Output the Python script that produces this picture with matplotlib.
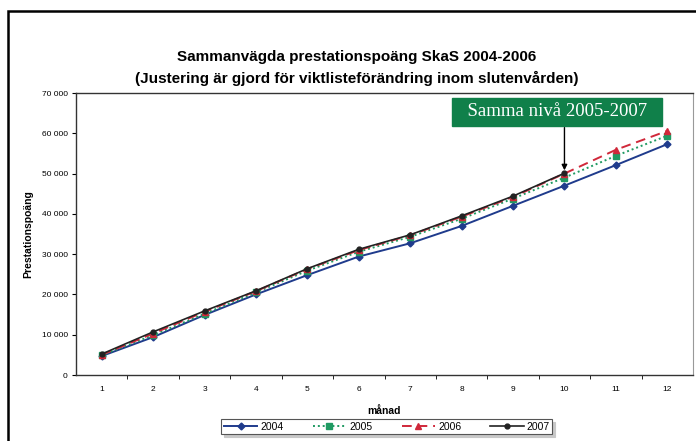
import matplotlib.pyplot as plt
from matplotlib.patches import Rectangle

months = list(range(1, 13))
p2004 = [4700, 9400, 14900, 20000, 24800, 29400, 32700, 37000, 42000, 47000, 52100, 57300]
p2005 = [4900, 9900, 15200, 20500, 25900, 30600, 34300, 38800, 43800, 49000, 54400, 59400]
p2006 = [5000, 10300, 15700, 20800, 26300, 31000, 34700, 39300, 44200, 50000, 55900, 60600]
p2007 = [5200, 10700, 15900, 20900, 26400, 31200, 34800, 39500, 44400, 50100]

yticks = list(range(0, 70001, 10000))
ytick_labels = ["{:,}".format(v).replace(",", " ") for v in yticks]

plt.rcParams['font.family'] = ['Liberation Sans', 'DejaVu Sans']

fig = plt.figure(figsize=(6.96, 4.41), dpi=100)
fig.patches.append(Rectangle((8 / 696, -0.1), 1.2, 1 - 11 / 441 + 0.1,
                             transform=fig.transFigure, fill=False,
                             edgecolor='black', linewidth=1.8))

ax = fig.add_axes([76 / 696, 1 - 375 / 441, 617 / 696, 282 / 441])

ax.plot(months, p2004, color='#1f3b8c', lw=1.4, marker='D', ms=3.5, label='2004')
ax.plot(months, p2005, color='#1f9a62', lw=1.4, ls=(0, (1, 1.5)), marker='s', ms=4, label='2005')
ax.plot(months, p2006, color='#d0283a', lw=1.4, ls=(0, (5, 3)), marker='^', ms=4, label='2006')
ax.plot(months[:len(p2007)], p2007, color='#222222', lw=1.2, marker='o', ms=3.5, label='2007')

ax.set_xlim(0.5, 12.5)
ax.set_ylim(0, 70000)
ax.set_xticks(months)
ax.set_xticklabels([str(m) for m in months], fontsize=6)
ax.set_xticks([m + 0.5 for m in months[:-1]], minor=True)
ax.tick_params(axis='x', which='major', length=0, pad=8)
ax.tick_params(axis='x', which='minor', length=3, direction='out')
ax.set_yticks(yticks)
ax.set_yticklabels(ytick_labels, fontsize=6)
ax.tick_params(axis='y', length=3, direction='out', pad=3)

for side in ['left', 'bottom', 'top']:
    ax.spines[side].set_color('#333333')
    ax.spines[side].set_linewidth(1.0)
ax.spines['right'].set_color('#999999')

ax.set_ylabel('Prestationspoäng', fontsize=7.5, fontweight='bold', labelpad=6)
ax.set_xlabel('månad', fontsize=7.5, fontweight='bold', labelpad=9)

fig.text(0.513, 1 - 57 / 441, 'Sammanvägda prestationspoäng SkaS 2004-2006',
         ha='center', va='center', fontsize=11, fontweight='bold')
fig.text(0.513, 1 - 78 / 441, '(Justering är gjord för viktlisteförändring inom slutenvården)',
         ha='center', va='center', fontsize=11, fontweight='bold')

# label box and arrow pointing at month 10
ax.text(9.86, 65300, '  Samma nivå 2005-2007  ', ha='center', va='center',
        fontsize=13.5, color='white', family='Liberation Serif',
        bbox=dict(boxstyle='square,pad=0.3', fc='#10804a', ec='#10804a'), clip_on=False)
ax.annotate('', xy=(10, p2007[9] + 700), xytext=(10, 61400),
            arrowprops=dict(arrowstyle='-|>', color='black', lw=1.0, shrinkA=0, shrinkB=0,
                            mutation_scale=8))

leg = ax.legend(loc='center', bbox_to_anchor=(0.504, -0.184), ncol=4, fontsize=7.5,
                frameon=True, fancybox=False, shadow={'color': '#c8c8c8', 'alpha': 1},
                handlelength=3.2, columnspacing=2.8, borderpad=0.25, handletextpad=0.3)
leg.get_frame().set_edgecolor('#555555')
leg.get_frame().set_linewidth(0.8)

fig.savefig('out.png', dpi=100)
